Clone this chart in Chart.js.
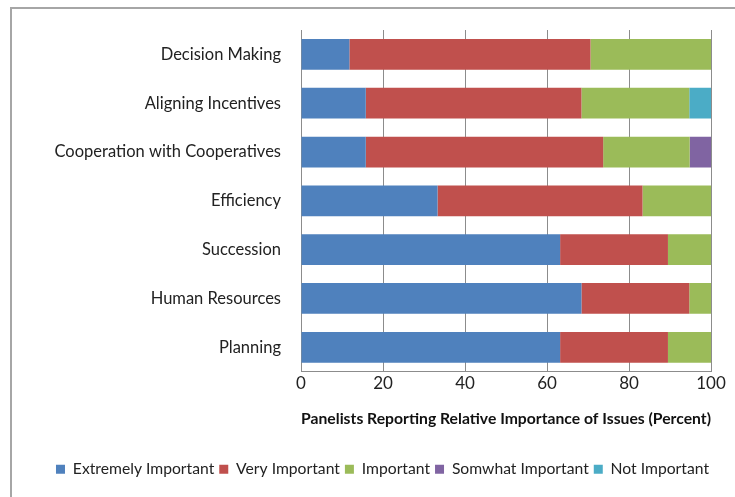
<!DOCTYPE html>
<html>
<head>
<meta charset="utf-8">
<script src="https://cdn.jsdelivr.net/npm/chart.js@4"></script>
<style>
  html, body { margin: 0; padding: 0; background: #fff; }
  #wrap { position: relative; width: 735px; height: 497px; }
</style>
</head>
<body>
<div id="wrap"><canvas id="issuesChart" width="735" height="497"></canvas></div>
<script>
var categories = ['Decision Making', 'Aligning Incentives', 'Cooperation with Cooperatives',
    'Efficiency', 'Succession', 'Human Resources', 'Planning'];
var extremelyImportant = [11.8, 15.8, 15.8, 33.3, 63.2, 68.4, 63.2];
var veryImportant      = [58.8, 52.6, 57.9, 50.0, 26.3, 26.3, 26.3];
var important          = [29.4, 26.3, 21.1, 16.7, 10.5, 5.3, 10.5];
var somewhatImportant  = [0, 0, 5.3, 0, 0, 0, 0];
var notImportant       = [0, 5.3, 0, 0, 0, 0, 0];
var xTicks = [0, 20, 40, 60, 80, 100];

// grey frame on the top and left edge, legend nudged right
var framePlugin = {
    id: 'frame',
    afterLayout: function (chart) {
        chart.legend.left += 27;
        chart.legend.right += 27;
    },
    beforeDraw: function (chart) {
        var c = chart.ctx;
        c.save();
        c.strokeStyle = '#a6a6a6';
        c.lineWidth = 2;
        c.beginPath();
        c.moveTo(11, 497);
        c.lineTo(11, 8);
        c.lineTo(735, 8);
        c.stroke();
        c.restore();
    }
};

document.addEventListener('DOMContentLoaded', function () {
    var ctx = document.getElementById('issuesChart').getContext('2d');
    function ds(label, data, color) {
        return { label: label, data: data, backgroundColor: color, borderWidth: 0,
                 barPercentage: 0.63, categoryPercentage: 1.0 };
    }
    new Chart(ctx, {
        type: 'bar',
        data: {
            labels: categories,
            datasets: [
                ds('Extremely Important', extremelyImportant, '#4f81bd'),
                ds('Very Important', veryImportant, '#c0504d'),
                ds('Important', important, '#9bbb59'),
                ds('Somwhat Important', somewhatImportant, '#8064a2'),
                ds('Not Important', notImportant, '#4bacc6')
            ]
        },
        options: {
            indexAxis: 'y',
            responsive: false,
            animation: false,
            layout: { padding: { top: 30, right: 24, left: 0, bottom: 10 } },
            scales: {
                x: {
                    stacked: true,
                    min: 0,
                    max: 100,
                    afterBuildTicks: function (s) { s.ticks = xTicks.map(function (v) { return { value: v }; }); },
                    grid: { color: '#8c8c8c', drawTicks: false, lineWidth: 1 },
                    border: { color: '#8c8c8c' },
                    ticks: { color: '#222', font: { family: 'Lato', size: 17 }, padding: 2 },
                    title: {
                        display: true,
                        text: 'Panelists Reporting Relative Importance of Issues (Percent)',
                        color: '#111',
                        font: { family: 'Lato', size: 16, weight: 'bold' },
                        padding: { top: 13, bottom: 28 }
                    }
                },
                y: {
                    stacked: true,
                    afterFit: function (s) { s.width = 301; },
                    grid: { display: false, drawTicks: false },
                    border: { color: '#8c8c8c' },
                    ticks: { color: '#222', font: { family: 'Lato', size: 16.5 }, padding: 20 }
                }
            },
            plugins: {
                legend: {
                    position: 'bottom',
                    labels: {
                        color: '#222',
                        font: { family: 'Lato', size: 15.7 },
                        boxWidth: 9,
                        boxHeight: 9,
                        padding: 5
                    }
                },
                tooltip: { enabled: false }
            }
        },
        plugins: [framePlugin]
    });
});
</script>
</body>
</html>
